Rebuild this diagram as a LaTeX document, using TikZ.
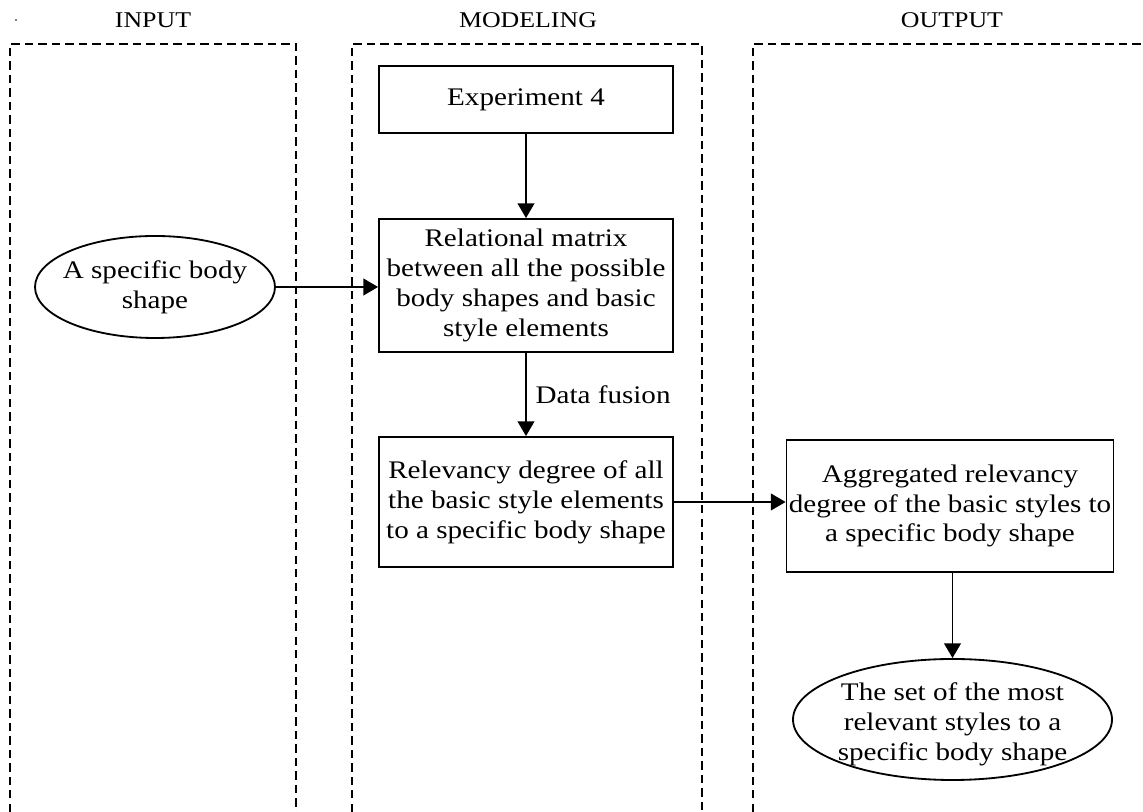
\documentclass[tikz,border=0pt]{standalone}
\usepackage{fontspec}
\setmainfont[FakeStretch=1.15]{Liberation Serif}
\usetikzlibrary{arrows.meta}
\usetikzlibrary{positioning}
\usetikzlibrary{shapes.geometric}

\tikzset{
  lane/.style={line width=1.1pt,dash pattern=on 6pt off 3.6pt},
  lanetitle/.style={font=\fontsize{16}{19}\selectfont},
  stagebox/.style={rectangle,draw,line width=1.3pt,align=center,minimum width=7.35cm,inner sep=0pt},
  oval/.style={ellipse,draw,line width=1.3pt,inner sep=0pt},
  flow/.style={line width=1.3pt,-{Triangle[length=0.37cm,width=0.42cm]}}
}

\begin{document}
\begin{tikzpicture}[font=\fontsize{18}{21.3}\selectfont]
\useasboundingbox (0,0) rectangle (28.575,20.3);
\fill (0.4,19.8) circle (0.02);

% the three lanes, open at the bottom
\draw[lane] (0.25,0) -- (0.25,19.2) -- (7.4,19.2) -- (7.4,0);
\draw[lane] (8.8,0) -- (8.8,19.2) -- (17.55,19.2) -- (17.55,0);
\draw[lane] (18.825,0) -- (18.825,19.2) -- (28.575,19.2);
\node[lanetitle] (tin) at (3.825,19.8) {INPUT};
\node[lanetitle] (tmod) at (13.2,19.8) {MODELING};
\node[lanetitle] (tout) at (23.8,19.8) {OUTPUT};

% input
\node[oval,minimum width=6cm,minimum height=2.55cm] (spec) at (3.875,13.125) {};
\node[align=center] (spectxt) at (spec) {A specific body\\shape};

% modeling
\node[stagebox,minimum height=1.675cm] (exp) at (13.15,17.8125) {Experiment 4};
\node[stagebox,minimum height=3.325cm] (rel) at (13.15,13.1625) {Relational matrix\\between all the possible\\body shapes and basic\\style elements};
\node[stagebox,minimum height=3.25cm] (relv) at (13.15,7.75) {Relevancy degree of all\\the basic style elements\\to a specific body shape};

% output
\node[stagebox,minimum width=8.175cm,minimum height=3.3cm] (agg) at (23.75,7.65) {Aggregated relevancy\\degree of the basic styles to\\a specific body shape};
\node[oval,minimum width=7.975cm,minimum height=3.025cm] (set) at (23.8125,2.3125) {};
\node[align=center] (settxt) at ([yshift=-0.12cm]set.center) {The set of the most\\relevant styles to a\\specific body shape};

\draw[flow] (exp) -- (rel);
\draw[flow] (spec.east) -- (spec.east -| rel.west);
\draw[flow] (rel) -- node[right,xshift=0.1cm] (fusion) {Data fusion} (relv);
\draw[flow] (relv.east) -- (relv.east -| agg.west);
\draw[flow] (set.north |- agg.south) -- (set.north);

\end{tikzpicture}
\end{document}
